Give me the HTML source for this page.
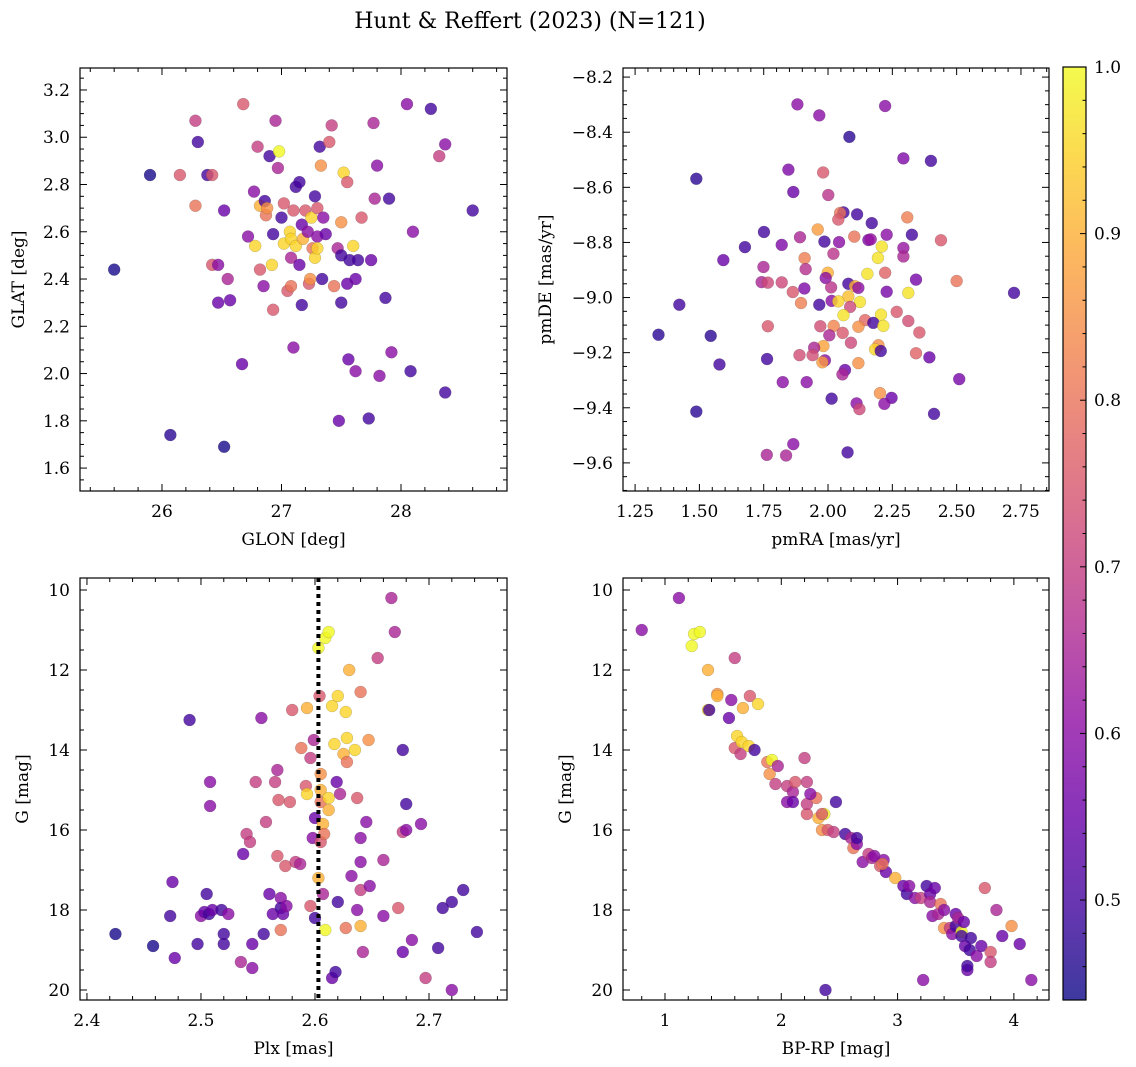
<!DOCTYPE html>
<html><head><meta charset="utf-8"><style>
html,body{margin:0;padding:0;background:#fff}
svg{display:block;font-family:"DejaVu Serif","Liberation Serif",serif}
</style></head><body>
<svg id="chart" width="1136" height="1067" viewBox="0 0 1136 1067">
<text x="530" y="28" font-size="22" text-anchor="middle">Hunt &amp; Reffert (2023) (N=121)</text>
</svg>
<script>
// ---------- data ----------
const p1x=[25.6,25.9,26.07,26.15,26.28,26.28,26.3,26.38,26.42,26.42,26.47,26.47,26.52,26.52,26.55,26.57,26.67,26.68,26.72,26.77,26.78,26.8,26.82,26.82,26.85,26.86,26.87,26.88,26.9,26.92,26.93,26.93,26.95,26.97,26.98,27.0,27.02,27.02,27.05,27.07,27.08,27.08,27.08,27.1,27.1,27.12,27.12,27.15,27.15,27.17,27.17,27.18,27.2,27.22,27.23,27.24,27.25,27.26,27.28,27.28,27.3,27.3,27.3,27.32,27.33,27.34,27.35,27.37,27.4,27.42,27.44,27.47,27.48,27.5,27.5,27.5,27.52,27.55,27.55,27.56,27.57,27.6,27.62,27.62,27.64,27.67,27.73,27.77,27.78,27.8,27.82,27.87,27.9,27.92,28.05,28.08,28.1,28.25,28.32,28.37,28.37,28.6,27.75];
const p1y=[2.44,2.84,1.74,2.84,3.07,2.71,2.98,2.84,2.84,2.46,2.46,2.3,2.69,1.69,2.4,2.31,2.04,3.14,2.58,2.77,2.54,2.96,2.71,2.44,2.37,2.73,2.67,2.7,2.92,2.46,2.27,2.59,3.07,2.87,2.94,2.66,2.55,2.72,2.35,2.6,2.57,2.37,2.49,2.11,2.69,2.79,2.54,2.81,2.46,2.29,2.63,2.57,2.69,2.6,2.38,2.4,2.66,2.53,2.49,2.75,2.7,2.58,2.53,2.96,2.88,2.4,2.66,2.59,2.98,3.05,2.37,2.53,1.8,2.3,2.5,2.64,2.85,2.38,2.81,2.06,2.48,2.54,2.4,2.01,2.48,2.66,1.81,3.06,2.74,2.88,1.99,2.32,2.74,2.09,3.14,2.01,2.6,3.12,2.92,2.97,1.92,2.69,2.48];
const p1c=[0.45,0.45,0.47,0.75,0.7,0.8,0.5,0.5,0.75,0.75,0.6,0.55,0.55,0.45,0.65,0.55,0.55,0.75,0.6,0.6,0.95,0.7,0.9,0.75,0.6,0.5,0.8,0.85,0.5,0.95,0.75,0.5,0.65,0.65,1.0,0.5,0.95,0.75,0.75,0.95,0.95,0.8,0.65,0.6,0.75,0.5,0.95,0.5,0.55,0.5,0.55,0.9,0.75,0.6,0.75,0.85,0.95,0.8,0.95,0.5,0.75,0.6,0.95,0.5,0.85,0.5,0.6,0.55,0.75,0.7,0.8,0.65,0.55,0.5,0.5,0.85,0.95,0.55,0.75,0.55,0.5,0.95,0.55,0.6,0.5,0.75,0.5,0.65,0.65,0.6,0.6,0.5,0.5,0.6,0.6,0.5,0.6,0.5,0.7,0.6,0.5,0.5,0.55];

const p2x=[1.881,1.966,2.222,2.083,2.293,2.400,1.488,1.846,1.981,1.865,2.001,2.060,2.047,2.040,2.113,2.170,2.308,1.751,1.960,1.891,1.820,1.986,2.043,2.102,2.157,2.166,2.228,2.326,2.439,1.677,2.209,2.293,2.293,2.021,1.593,1.909,2.194,1.749,1.913,1.999,1.991,2.153,2.222,2.342,2.500,1.742,1.766,1.820,1.908,2.012,2.079,2.105,2.118,1.863,2.228,2.312,2.723,2.079,1.422,1.895,1.966,2.014,2.040,2.124,2.086,2.060,2.206,2.267,2.144,2.176,2.215,2.312,1.766,1.970,2.022,2.118,2.355,1.341,1.544,2.005,2.057,2.089,1.982,1.946,2.196,2.183,2.205,2.342,2.394,1.889,1.940,1.763,1.988,1.978,2.118,1.578,2.066,2.056,1.824,1.917,2.510,2.014,2.202,2.247,2.111,2.122,2.219,1.488,2.412,1.865,1.762,1.837,2.076];
const p2y=[-8.299,-8.339,-8.305,-8.417,-8.495,-8.504,-8.569,-8.536,-8.546,-8.617,-8.628,-8.691,-8.693,-8.717,-8.698,-8.730,-8.709,-8.762,-8.753,-8.781,-8.809,-8.797,-8.799,-8.779,-8.791,-8.789,-8.772,-8.772,-8.792,-8.817,-8.815,-8.820,-8.851,-8.841,-8.864,-8.857,-8.856,-8.889,-8.897,-8.910,-8.929,-8.914,-8.910,-8.935,-8.940,-8.944,-8.946,-8.945,-8.967,-8.963,-8.950,-8.959,-8.965,-8.980,-8.979,-8.983,-8.983,-8.996,-9.026,-9.020,-9.026,-9.012,-9.014,-9.016,-9.034,-9.064,-9.062,-9.052,-9.082,-9.092,-9.103,-9.085,-9.104,-9.104,-9.103,-9.106,-9.127,-9.135,-9.139,-9.137,-9.128,-9.164,-9.176,-9.182,-9.173,-9.188,-9.194,-9.202,-9.217,-9.209,-9.209,-9.223,-9.228,-9.235,-9.238,-9.243,-9.263,-9.279,-9.307,-9.307,-9.296,-9.367,-9.347,-9.364,-9.384,-9.405,-9.386,-9.414,-9.422,-9.532,-9.571,-9.573,-9.562];
const p2c=[0.6,0.6,0.6,0.47,0.58,0.5,0.47,0.58,0.75,0.55,0.68,0.5,0.8,0.75,0.5,0.5,0.82,0.5,0.87,0.65,0.58,0.5,0.6,0.8,0.58,0.62,0.6,0.5,0.75,0.5,0.97,0.62,0.65,0.68,0.55,0.82,0.97,0.65,0.67,0.9,0.6,0.97,0.77,0.57,0.8,0.65,0.72,0.72,0.58,0.68,0.5,0.9,0.6,0.75,0.57,0.97,0.5,0.92,0.5,0.82,0.5,0.6,0.95,0.97,0.72,0.97,0.97,0.75,0.78,0.5,0.97,0.73,0.75,0.73,0.83,0.85,0.75,0.47,0.47,0.65,0.75,0.72,0.88,0.65,0.85,0.95,0.5,0.77,0.55,0.73,0.73,0.5,0.6,0.87,0.85,0.5,0.55,0.65,0.6,0.6,0.57,0.5,0.85,0.55,0.6,0.72,0.6,0.47,0.5,0.6,0.65,0.65,0.5];

const p3x=[2.425,2.458,2.475,2.473,2.477,2.49,2.497,2.5,2.503,2.505,2.507,2.508,2.508,2.51,2.518,2.52,2.52,2.524,2.535,2.537,2.54,2.543,2.545,2.545,2.548,2.553,2.555,2.557,2.56,2.563,2.565,2.567,2.567,2.568,2.57,2.57,2.57,2.572,2.575,2.574,2.578,2.58,2.583,2.587,2.588,2.592,2.593,2.593,2.596,2.596,2.598,2.6,2.599,2.6,2.603,2.604,2.603,2.605,2.605,2.605,2.605,2.607,2.607,2.608,2.609,2.609,2.612,2.612,2.612,2.615,2.615,2.617,2.618,2.619,2.62,2.62,2.622,2.625,2.627,2.627,2.628,2.628,2.63,2.632,2.635,2.637,2.637,2.64,2.64,2.64,2.64,2.64,2.642,2.645,2.647,2.648,2.655,2.66,2.66,2.667,2.67,2.673,2.677,2.677,2.677,2.68,2.68,2.685,2.693,2.697,2.708,2.712,2.72,2.72,2.73,2.742];
const p3y=[18.6,18.9,17.3,18.15,19.2,13.25,18.85,18.15,18.05,17.6,18.1,14.8,15.4,18.0,18.0,18.6,18.85,18.1,19.3,16.6,16.1,16.3,19.45,18.85,14.8,13.2,18.6,15.8,17.6,18.1,14.8,16.65,14.5,15.25,17.7,17.95,18.5,18.1,17.9,16.9,15.3,13.0,16.8,16.85,13.95,14.9,15.1,12.95,17.9,14.2,16.2,18.2,13.75,15.7,11.45,12.65,17.2,14.6,15.3,15.0,16.3,15.85,17.6,16.1,18.5,11.2,11.05,15.2,15.5,19.7,12.9,13.85,19.55,14.8,12.65,17.8,15.1,14.1,18.45,13.05,13.7,14.3,12.0,17.15,14.0,15.2,18.0,12.55,16.2,17.5,16.8,18.4,19.05,15.8,13.75,17.4,11.7,18.15,16.75,10.2,11.05,17.95,14.0,16.05,19.05,16.0,15.35,18.75,15.85,19.7,18.95,17.95,17.8,20.0,17.5,18.55];
const p3c=[0.45,0.45,0.55,0.5,0.55,0.5,0.5,0.6,0.55,0.5,0.5,0.6,0.6,0.55,0.5,0.5,0.5,0.6,0.65,0.55,0.7,0.7,0.6,0.55,0.7,0.6,0.5,0.7,0.55,0.55,0.7,0.75,0.65,0.75,0.6,0.5,0.8,0.55,0.6,0.75,0.75,0.75,0.7,0.65,0.8,0.75,0.95,0.9,0.75,0.7,0.6,0.5,0.65,0.55,1.0,0.75,0.9,0.85,0.8,0.9,0.75,0.9,0.65,0.8,1.0,1.0,1.0,0.95,0.9,0.55,0.95,0.95,0.5,0.55,0.95,0.5,0.65,0.9,0.8,0.95,0.95,0.8,0.9,0.6,0.95,0.75,0.6,0.8,0.6,0.7,0.6,0.9,0.65,0.6,0.85,0.6,0.7,0.6,0.65,0.65,0.65,0.75,0.5,0.7,0.55,0.6,0.5,0.6,0.6,0.7,0.5,0.5,0.5,0.6,0.5,0.5];
const plxLine=2.603;

const p4x=[0.8,1.12,1.23,1.25,1.3,1.37,1.37,1.38,1.45,1.45,1.55,1.57,1.6,1.6,1.62,1.65,1.66,1.67,1.72,1.73,1.77,1.8,1.88,1.9,1.92,1.95,1.97,2.05,2.05,2.1,2.1,2.12,2.2,2.22,2.22,2.22,2.3,2.32,2.35,2.37,2.35,2.38,2.4,2.47,2.45,2.55,2.6,2.62,2.65,2.65,2.7,2.75,2.78,2.8,2.85,2.88,2.9,2.98,3.05,3.08,3.1,3.15,3.2,3.22,3.25,3.28,3.28,3.3,3.32,3.35,3.37,3.4,3.4,3.45,3.47,3.5,3.5,3.52,3.55,3.55,3.57,3.58,3.6,3.62,3.63,3.68,3.72,3.75,3.8,3.8,3.85,3.9,3.98,4.05,4.15,3.6,2.25,2.87];
const p4y=[11.0,10.2,11.4,11.1,11.05,12.0,13.0,13.0,12.6,12.65,13.2,12.75,11.7,13.95,13.65,14.1,13.8,12.95,13.9,12.65,14.0,12.85,14.3,14.6,14.25,14.85,14.4,14.9,15.3,15.05,15.3,14.8,14.2,14.8,15.6,15.35,15.2,15.7,16.0,15.6,15.6,20.0,16.0,15.3,16.05,16.1,16.2,16.45,16.35,16.2,16.8,16.6,16.7,16.65,16.9,16.75,17.05,17.2,17.4,17.6,17.4,17.7,17.7,19.75,17.4,17.6,17.8,18.15,17.45,18.1,17.85,18.0,18.45,18.45,18.6,18.1,18.4,18.2,18.55,18.65,18.3,18.9,19.5,19.0,18.7,19.15,18.9,17.45,19.05,19.3,18.0,18.65,18.4,18.85,19.75,19.4,15.1,16.85];
const p4c=[0.6,0.6,1.0,1.0,1.0,0.9,0.95,0.5,0.85,0.9,0.55,0.6,0.7,0.75,0.95,0.7,0.95,0.9,0.95,0.75,0.5,0.95,0.8,0.85,1.0,0.7,0.65,0.7,0.6,0.65,0.55,0.75,0.7,0.7,0.75,0.7,0.8,0.9,0.85,1.0,0.75,0.5,0.75,0.5,0.7,0.5,0.65,0.8,0.6,0.5,0.6,0.7,0.65,0.6,0.75,0.6,0.55,0.9,0.55,0.5,0.6,0.6,0.7,0.6,0.5,0.55,0.65,0.6,0.55,0.65,0.8,0.6,0.85,0.7,0.6,0.55,0.5,0.65,1.0,0.5,0.55,0.55,0.55,0.5,0.5,0.6,0.55,0.75,0.75,0.7,0.65,0.55,0.85,0.55,0.6,0.5,0.6,0.8];

const cbTicks=[0.5,0.6,0.7,0.8,0.9,1.0];
const cmin=0.44, cmax=1.0;

// ---------- helpers ----------
const NS='http://www.w3.org/2000/svg';
const svg=document.getElementById('chart');
function mk(tag,attrs,parent){const e=document.createElementNS(NS,tag);for(const k in attrs)e.setAttribute(k,attrs[k]);(parent||svg).appendChild(e);return e;}
const stops=['#0d0887','#41049d','#6a00a8','#8f0da4','#b12a90','#cc4778','#e16462','#f2844b','#fca636','#fcce25','#f0f921'];
function hex(h){return [parseInt(h.substr(1,2),16),parseInt(h.substr(3,2),16),parseInt(h.substr(5,2),16)];}
function plasma(t){t=Math.max(0,Math.min(1,t));const f=t*10,i=Math.min(9,Math.floor(f)),r=f-i;const a=hex(stops[i]),b=hex(stops[i+1]);return 'rgb('+a.map((v,k)=>Math.round(v+(b[k]-v)*r)).join(',')+')';}
function cnorm(v){return (v-cmin)/(cmax-cmin);}
function fmt(v,d){return v.toFixed(d).replace('-','\u2212');}

function panel(o){
  const g=mk('g',{});
  
  
  const sx=v=>o.L+(v-o.x0)/(o.x1-o.x0)*(o.R-o.L);
  const sy=v=>o.inv? o.T+(v-o.y0)/(o.y1-o.y0)*(o.B-o.T) : o.B-(v-o.y0)/(o.y1-o.y0)*(o.B-o.T);
  const pg=mk('g',{},g);
  
  
  for(let i=0;i<o.xs.length;i++){
    const c=mk('circle',{cx:sx(o.xs[i]),cy:sy(o.ys[i]),r:6,fill:plasma(cnorm(o.cs[i])),'fill-opacity':0.8,stroke:'#333','stroke-width':0.3,'stroke-opacity':0.5},pg);
    
    
  }
  if(o.vline!==undefined){
    const l=mk('line',{x1:sx(o.vline),x2:sx(o.vline),y1:o.T,y2:o.B,stroke:'#000','stroke-width':4,'stroke-dasharray':'4,4'},g);
    
    
  }
  const fr=mk('rect',{x:o.L,y:o.T,width:o.R-o.L,height:o.B-o.T,fill:'none',stroke:'#000','stroke-width':1.2},g);
  
  
  const tg=mk('g',{stroke:'#000','stroke-width':1},g);
  
  
  const eps=1e-9;
  for(let v=Math.ceil(o.x0/o.xmin)*o.xmin;v<=o.x1+eps;v+=o.xmin){
    const x=sx(v);const isMaj=Math.abs(v/o.xmaj-Math.round(v/o.xmaj))<1e-6;const len=isMaj?7:4;
    mk('line',{x1:x,x2:x,y1:o.B,y2:o.B-len},tg);mk('line',{x1:x,x2:x,y1:o.T,y2:o.T+len},tg);
  }
  for(let v=Math.ceil(Math.min(o.y0,o.y1)/o.ymin)*o.ymin;v<=Math.max(o.y0,o.y1)+eps;v+=o.ymin){
    const y=sy(v);const isMaj=Math.abs(v/o.ymaj-Math.round(v/o.ymaj))<1e-6;const len=isMaj?7:4;
    mk('line',{x1:o.L,x2:o.L+len,y1:y,y2:y},tg);mk('line',{x1:o.R,x2:o.R-len,y1:y,y2:y},tg);
  }
  o.xt.forEach(v=>{const t=mk('text',{x:sx(v),y:o.B+26,'font-size':17,'text-anchor':'middle'},g);t.textContent=fmt(v,o.xd);
    });
  o.yt.forEach(v=>{const t=mk('text',{x:o.L-10,y:sy(v)+6,'font-size':17,'text-anchor':'end'},g);t.textContent=fmt(v,o.yd);
    });
  const xl=mk('text',{x:(o.L+o.R)/2,y:o.B+54,'font-size':17,'text-anchor':'middle'},g);xl.textContent=o.xlab;
  
  const yx=o.ylx,yy=(o.T+o.B)/2;
  const yl=mk('text',{x:yx,y:yy,'font-size':17,'text-anchor':'middle',transform:'rotate(-90 '+yx+' '+yy+')'},g);yl.textContent=o.ylab;
  
}
function range(a,b,s){const r=[];for(let v=a;v<=b+1e-9;v+=s)r.push(Math.round(v*1000)/1000);return r;}

panel({name:'glon-glat-panel',L:80,R:507,T:68,B:491,x0:25.314,x1:28.887,y0:1.503,y1:3.293,xs:p1x,ys:p1y,cs:p1c,
  xmaj:1,xmin:0.2,ymaj:0.2,ymin:0.05,xt:[26,27,28],xd:0,yt:range(1.6,3.2,0.2),yd:1,xlab:'GLON [deg]',ylab:'GLAT [deg]',ylx:24});
panel({name:'proper-motion-panel',L:623,R:1049,T:68,B:491,x0:1.203,x1:2.859,y0:-9.702,y1:-8.167,xs:p2x,ys:p2y,cs:p2c,
  xmaj:0.25,xmin:0.05,ymaj:0.2,ymin:0.05,xt:range(1.25,2.75,0.25),xd:2,yt:range(-9.6,-8.2,0.2),yd:1,xlab:'pmRA [mas/yr]',ylab:'pmDE [mas/yr]',ylx:551});
panel({name:'parallax-magnitude-panel',L:80,R:507,T:578,B:1000,x0:2.3939,x1:2.7684,y0:9.7,y1:20.25,inv:true,xs:p3x,ys:p3y,cs:p3c,vline:plxLine,
  xmaj:0.1,xmin:0.02,ymaj:2,ymin:0.5,xt:[2.4,2.5,2.6,2.7],xd:1,yt:[10,12,14,16,18,20],yd:0,xlab:'Plx [mas]',ylab:'G [mag]',ylx:28});
panel({name:'color-magnitude-panel',L:623,R:1049,T:578,B:1000,x0:0.639,x1:4.302,y0:9.7,y1:20.25,inv:true,xs:p4x,ys:p4y,cs:p4c,
  xmaj:1,xmin:0.2,ymaj:2,ymin:0.5,xt:[1,2,3,4],xd:0,yt:[10,12,14,16,18,20],yd:0,xlab:'BP-RP [mag]',ylab:'G [mag]',ylx:571});

// colorbar
(function(){
  const L=1063,R=1086,T=67,B=1000;
  const g=mk('g',{});
  
  
  const defs=mk('defs',{},g);
  const lg=mk('linearGradient',{id:'cbg',x1:0,y1:1,x2:0,y2:0},defs);
  for(let i=0;i<=20;i++){const t=i/20;mk('stop',{offset:t,'stop-color':plasma(t),'stop-opacity':0.8},lg);}
  mk('rect',{x:L,y:T,width:R-L,height:B-T,fill:'url(#cbg)',stroke:'#000','stroke-width':1.2},g);
  const sy=v=>B-(v-cmin)/(cmax-cmin)*(B-T);
  for(let v=0.46;v<=1.0001;v+=0.02){const y=sy(v);const maj=Math.abs(v*10-Math.round(v*10))<1e-6;
    mk('line',{x1:R,x2:R-(maj?6:3.5),y1:y,y2:y,stroke:'#000','stroke-width':1},g);}
  cbTicks.forEach(v=>{const t=mk('text',{x:R+8,y:sy(v)+6,'font-size':17},g);t.textContent=v.toFixed(1);
    });
})();
</script>
</body></html>
